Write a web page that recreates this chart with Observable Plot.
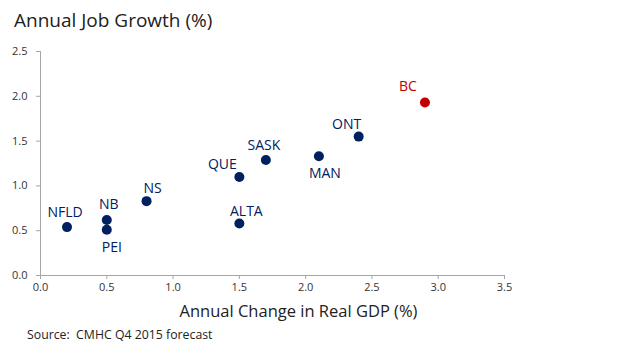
<!DOCTYPE html>
<html>
<head>
<meta charset="utf-8">
<script src="https://cdn.jsdelivr.net/npm/d3@7"></script>
<script src="https://cdn.jsdelivr.net/npm/@observablehq/plot@0.6"></script>
<style>
  html, body { margin: 0; padding: 0; background: #fff; }
  body { width: 640px; height: 353px; overflow: hidden; font-family: "Open Sans", Lato, sans-serif; }
  #title { height: 36px; box-sizing: border-box; padding: 10px 0 0 14px; font-size: 19px; color: #222; line-height: 20px; }
  #caption { padding: 2px 0 0 27px; font-size: 12.3px; color: #222; line-height: 14px; }
  svg { display: block; }
</style>
</head>
<body>
<div id="title">Annual Job Growth (%)</div>
<div id="chart"></div>
<div id="caption">Source:&nbsp; CMHC Q4 2015 forecast</div>
<script>
const provinces = ["NFLD", "NB", "PEI", "NS", "QUE", "ALTA", "SASK", "MAN", "ONT", "BC"];
const gdpChange = [0.2, 0.5, 0.5, 0.8, 1.5, 1.5, 1.7, 2.1, 2.4, 2.9];
const jobGrowth = [0.54, 0.62, 0.51, 0.83, 1.10, 0.58, 1.29, 1.33, 1.55, 1.93];
const highlighted = ["BC"];
const xTicks = [0, 0.5, 1.0, 1.5, 2.0, 2.5, 3.0, 3.5];
const yTicks = [0, 0.5, 1.0, 1.5, 2.0, 2.5];
const xLabel = "Annual Change in Real GDP (%)";

const data = provinces.map((p, i) => ({name: p, x: gdpChange[i], y: jobGrowth[i], hi: highlighted.includes(p)}));

// label placement offsets (pixels) relative to each dot
const labelOffset = {
  NFLD: [-2, -15], NB: [2, -15], PEI: [5, 18], NS: [6, -13], QUE: [-17, -12],
  ALTA: [7, -12], SASK: [-2, -14], MAN: [6, 17], ONT: [-12, -12], BC: [-17, -16]
};

const navy = "#002060", red = "#c00000", axisGray = "#a6a6a6";

const labelMarks = data.map(d => Plot.text([d], {
  x: "x", y: "y", text: "name",
  dx: labelOffset[d.name][0], dy: labelOffset[d.name][1],
  fill: d.hi ? red : navy, fontSize: 14, textAnchor: "middle", lineAnchor: "middle"
}));

const chart = Plot.plot({
  width: 640, height: 290,
  marginLeft: 40, marginRight: 136, marginTop: 15, marginBottom: 51,
  style: {fontFamily: "'Open Sans', Lato, sans-serif", background: "#fff"},
  x: {domain: [0, 3.5]},
  y: {domain: [0, 2.5]},
  marks: [
    Plot.ruleY([0], {stroke: axisGray}),
    Plot.ruleX([0], {stroke: axisGray}),
    Plot.axisX({ticks: xTicks, tickFormat: d3.format(".1f"), tickSize: 4, tickPadding: 4, stroke: axisGray, fill: "#333", fontSize: 11, label: null}),
    Plot.axisY({ticks: yTicks, tickFormat: d3.format(".1f"), tickSize: 4, tickPadding: 9, stroke: axisGray, fill: "#333", fontSize: 11, label: null}),
    Plot.dot(data, {x: "x", y: "y", r: 5, fill: d => d.hi ? red : navy, stroke: "none"}),
    ...labelMarks,
    Plot.text([xLabel], {frameAnchor: "bottom", text: d => d, dx: 26, dy: 36, fontSize: 16.5, fill: "#222", lineAnchor: "middle"})
  ]
});
document.getElementById("chart").appendChild(chart);
</script>
</body>
</html>
